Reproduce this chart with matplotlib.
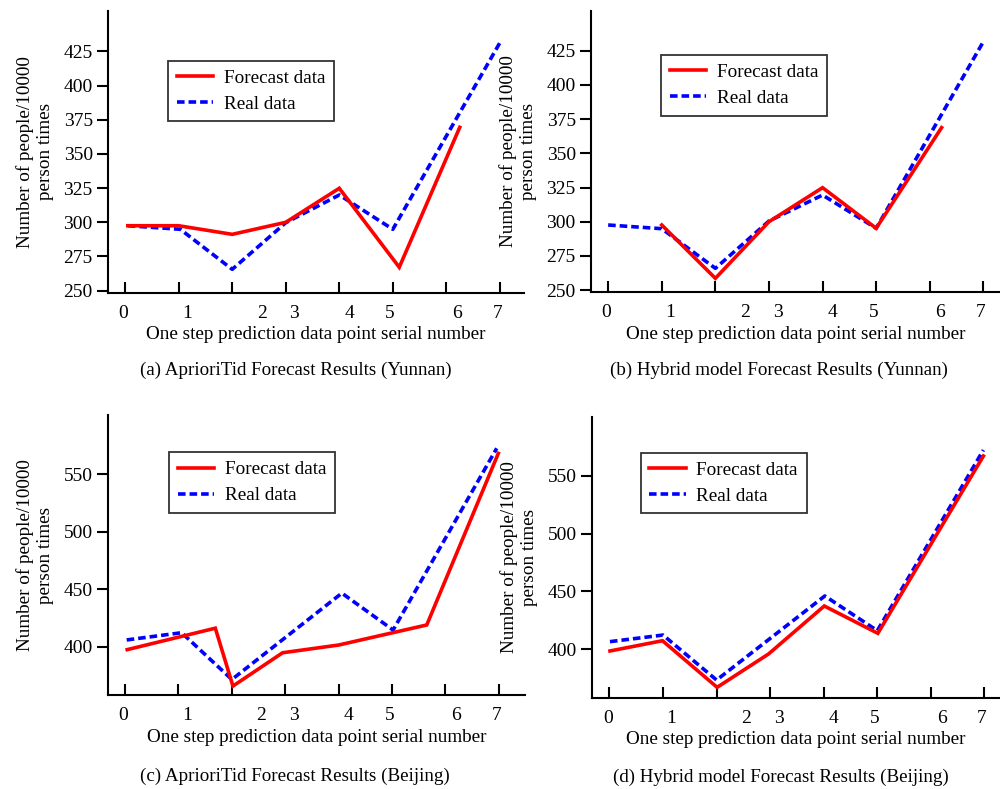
import matplotlib
matplotlib.use("Agg")
import matplotlib.pyplot as plt
from matplotlib.ticker import FixedLocator, NullFormatter, FixedFormatter

plt.rcParams['font.family'] = ['Liberation Serif', 'DejaVu Serif']
plt.rcParams['font.size'] = 14

# ---------------- data ----------------
tick_labels = ["0", "1", "2", "3", "4", "5", "6", "7"]

# (a) AprioriTid, Yunnan
a_fc_x = [0.05, 1.0, 2.0, 3.0, 4.0, 5.12, 6.25]
a_fc_y = [297.5, 297.5, 291.2, 300.0, 324.9, 267.1, 369.5]
a_re_x = [0.05, 1.03, 2.0, 3.0, 4.0, 5.0, 7.0]
a_re_y = [297.5, 294.9, 265.6, 299.7, 320.0, 294.9, 431.4]

# (b) Hybrid, Yunnan
b_fc_x = [1.0, 2.0, 3.0, 4.0, 5.0, 6.22]
b_fc_y = [297.6, 258.6, 300.0, 324.9, 295.2, 368.8]
b_re_x = [0.0, 1.0, 2.0, 3.0, 4.0, 5.0, 7.0]
b_re_y = [297.6, 294.9, 265.9, 300.5, 319.5, 295.2, 431.7]

# (c) AprioriTid, Beijing
c_fc_x = [0.04, 1.69, 2.02, 2.95, 4.0, 5.65, 6.99]
c_fc_y = [397.7, 416.3, 366.1, 395.0, 401.7, 419.1, 567.9]
c_re_x = [0.03, 1.06, 2.0, 4.06, 5.02, 6.96]
c_re_y = [406.1, 412.4, 371.8, 446.7, 414.7, 572.3]

# (d) Hybrid, Beijing
d_fc_x = [0.01, 0.99, 2.01, 2.97, 4.01, 5.01, 6.98]
d_fc_y = [398.3, 407.2, 366.8, 395.7, 437.3, 413.6, 567.3]
d_re_x = [0.01, 1.0, 2.0, 4.02, 5.0, 6.98]
d_re_y = [406.4, 412.1, 373.1, 446.0, 415.9, 572.5]

yunnan_ticks = [250, 275, 300, 325, 350, 375, 400, 425]
beijing_ticks = [400, 450, 500, 550]

captions = ["(a) AprioriTid Forecast Results (Yunnan)",
            "(b) Hybrid model Forecast Results (Yunnan)",
            "(c) AprioriTid Forecast Results (Beijing)",
            "(d) Hybrid model Forecast Results (Beijing)"]

# ---------------- layout ----------------
label_pos = [-0.03, 1.16, 2.55, 3.16, 4.19, 4.95, 6.2, 6.95]
W, H = 1000, 789
fig = plt.figure(figsize=(W / 100, H / 100), dpi=100)

panels = [
    dict(rect=[108, 11, 416, 281.7], xlim=(-0.32, 7.45), ylim=(248.5, 454.6),
         yt=yunnan_ticks, fc=(a_fc_x, a_fc_y), re=(a_re_x, a_re_y),
         leg=(0.145, 0.824), cap=(295.5, 370.7)),
    dict(rect=[591, 11, 409, 281], xlim=(-0.32, 7.31), ylim=(248.6, 454.1),
         yt=yunnan_ticks, fc=(b_fc_x, b_fc_y), re=(b_re_x, b_re_y),
         leg=(0.172, 0.843), cap=(779, 370.5)),
    dict(rect=[108, 415, 417, 280.3], xlim=(-0.32, 7.49), ylim=(358.1, 601.2),
         yt=beijing_ticks, fc=(c_fc_x, c_fc_y), re=(c_re_x, c_re_y),
         leg=(0.147, 0.867), cap=(295, 776)),
    dict(rect=[592.3, 416.7, 407.7, 281], xlim=(-0.32, 7.29), ylim=(357.8, 601.4),
         yt=beijing_ticks, fc=(d_fc_x, d_fc_y), re=(d_re_x, d_re_y),
         leg=(0.119, 0.872), cap=(780.5, 777.5)),
]

for p, cap in zip(panels, captions):
    l, t, w, h = p['rect']
    ax = fig.add_axes([l / W, 1 - (t + h) / H, w / W, h / H])
    ax.plot(p['fc'][0], p['fc'][1], color='#ff0000', lw=2.6, solid_joinstyle='miter',
            label='Forecast data', zorder=3)
    ax.plot(p['re'][0], p['re'][1], color='#0000ff', lw=2.6, linestyle=(0, (2.1, 1.1)),
            label='Real data', zorder=2)
    ax.set_xlim(*p['xlim'])
    ax.set_ylim(*p['ylim'])
    for s in ['top', 'right']:
        ax.spines[s].set_visible(False)
    for s in ['left', 'bottom']:
        ax.spines[s].set_linewidth(1.5)

    ax.xaxis.remove_overlapping_locs = False
    ax.xaxis.set_major_locator(FixedLocator(range(len(tick_labels))))
    ax.xaxis.set_major_formatter(NullFormatter())
    ax.xaxis.set_minor_locator(FixedLocator(label_pos))
    ax.xaxis.set_minor_formatter(FixedFormatter(tick_labels))
    ax.tick_params(axis='x', which='major', direction='in', length=8, width=1.5)
    ax.tick_params(axis='x', which='minor', length=0, pad=8.5, labelsize=14)
    ax.set_yticks(p['yt'])
    ax.tick_params(axis='y', direction='out', length=8, width=1.5, pad=3, labelsize=14)

    ax.set_xlabel('One step prediction data point serial number', fontsize=13.8, labelpad=3.5)
    ax.set_ylabel('Number of people/10000\nperson times', fontsize=13.8, linespacing=1.25)
    ax.yaxis.set_label_coords(-54 / w, 0.5)

    leg = ax.legend(loc='upper left', bbox_to_anchor=p['leg'], borderaxespad=0,
                    fontsize=13.8, frameon=True, fancybox=False, edgecolor='black',
                    handlelength=1.9, handletextpad=0.55, borderpad=0.45,
                    labelspacing=0.45)
    leg.get_frame().set_linewidth(1.3)

    fig.text(p['cap'][0] / W, 1 - p['cap'][1] / H, cap, ha='center', va='center', fontsize=13.7)

fig.savefig('out.png', dpi=100)
